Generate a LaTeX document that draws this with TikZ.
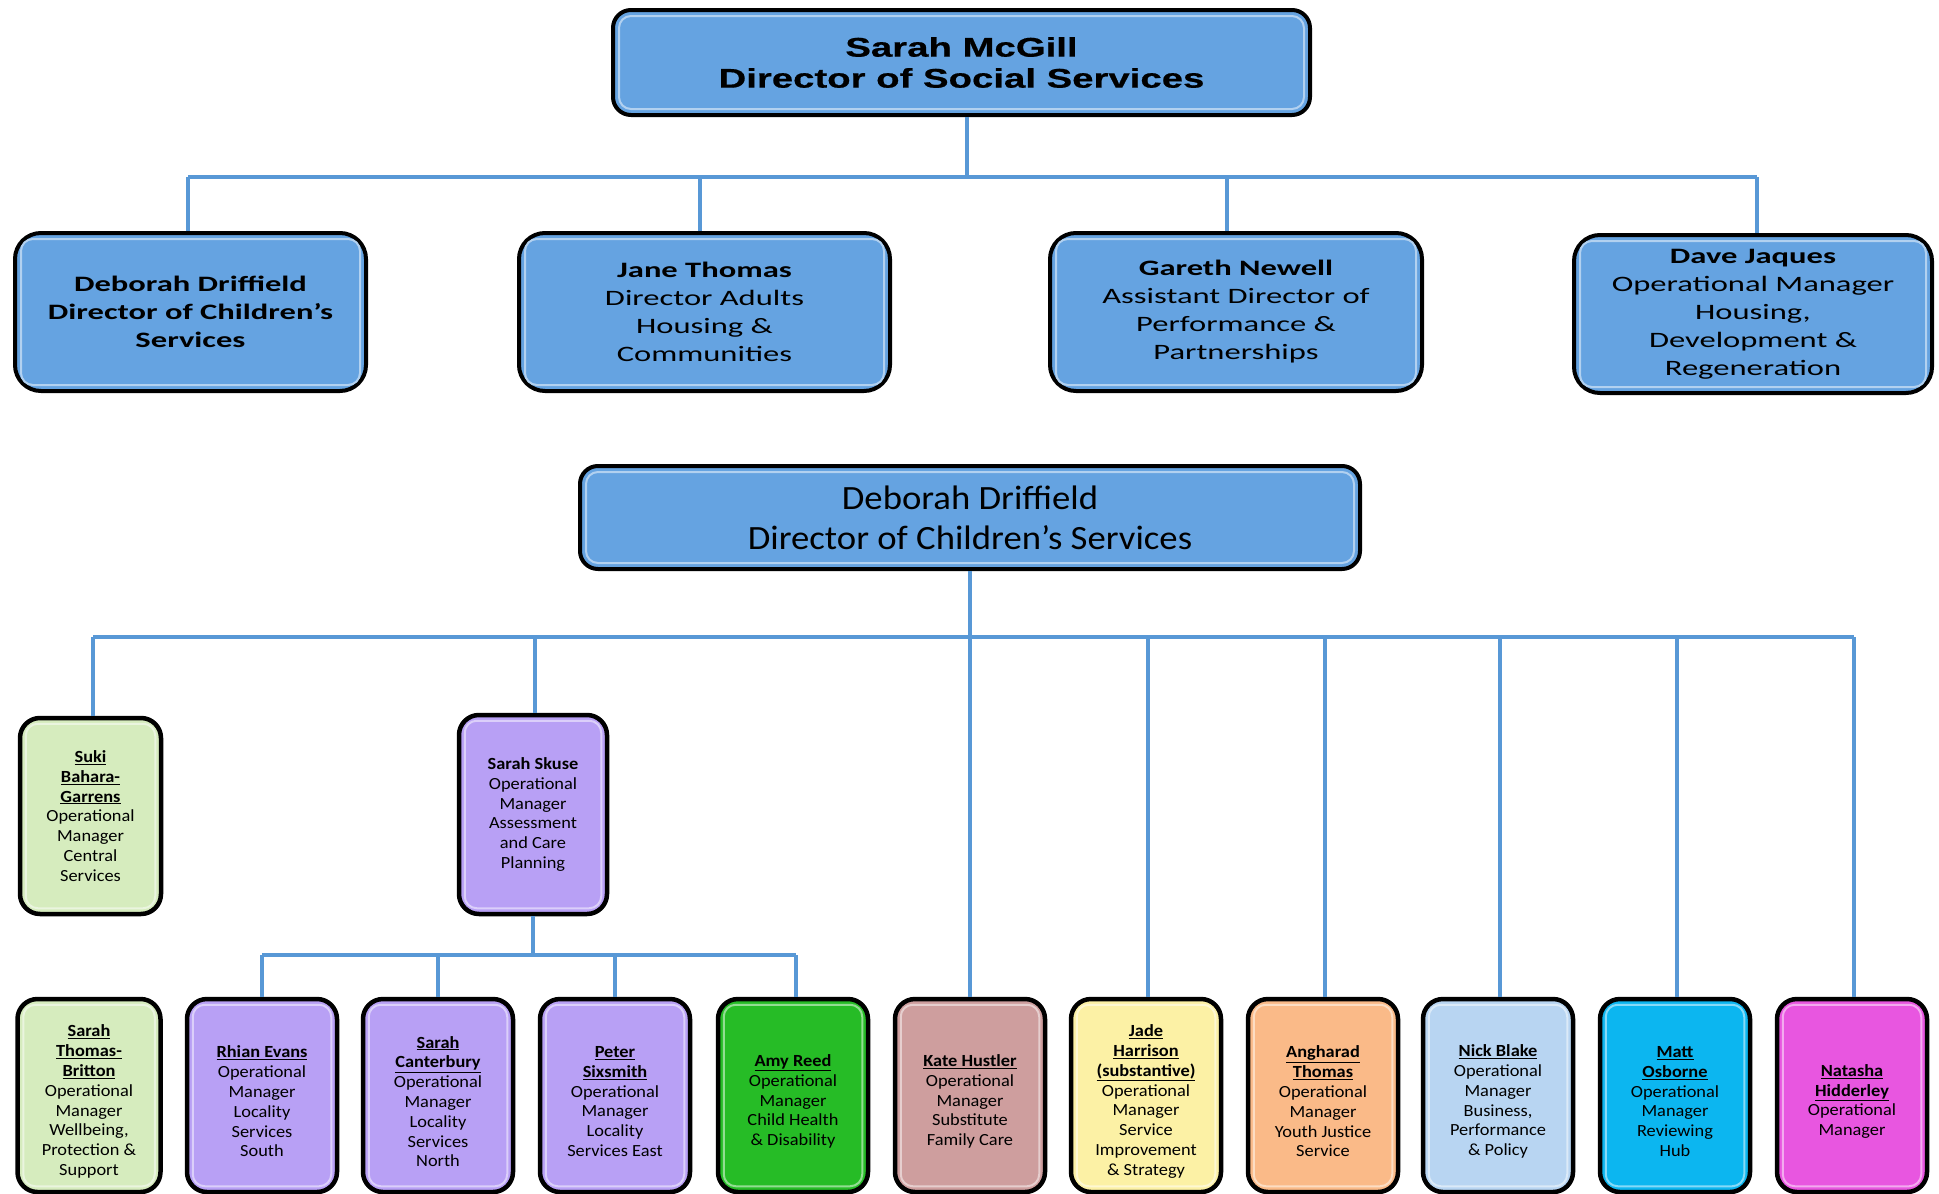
\documentclass[tikz,border=0pt]{standalone}
\usepackage{fontspec}
\setmainfont{Carlito}
\newfontfamily\topfont[FakeStretch=1.42,FakeBold=0.6]{Liberation Sans}
\newfontfamily\rowfont[FakeStretch=1.48]{Carlito}
\newfontfamily\midfont[FakeStretch=1.08]{Carlito}
\newfontfamily\smfont[FakeStretch=1.08]{Carlito}
\definecolor{boxblue}{RGB}{101,163,225}
\definecolor{linkblue}{RGB}{88,152,214}
\definecolor{lgreen}{RGB}{214,236,190}
\definecolor{lpurple}{RGB}{184,160,245}
\definecolor{bgreen}{RGB}{38,188,38}
\definecolor{rose}{RGB}{206,158,158}
\definecolor{lyellow}{RGB}{252,241,165}
\definecolor{peach}{RGB}{250,186,136}
\definecolor{lblue}{RGB}{184,213,242}
\definecolor{cyanbox}{RGB}{12,182,240}
\definecolor{magbox}{RGB}{232,86,224}
\newcommand{\uname}[1]{\underline{\textbf{#1}}}
\newcommand{\bev}[2]{\draw[draw=#2!50!white, line width=2, rounded corners=12] ([xshift=8pt,yshift=-8pt]#1.north west) rectangle ([xshift=-8pt,yshift=8pt]#1.south east);}
\tikzset{
  box/.style={draw=black, line width=4, rounded corners=18, align=center, inner sep=0, text=black},
  topbox/.style={box, fill=boxblue, font=\topfont\bfseries\fontsize{27}{31}\selectfont},
  rowbox/.style={box, fill=boxblue, minimum height=158, rounded corners=26, font=\rowfont\fontsize{22}{28}\selectfont},
  midbox/.style={box, fill=boxblue, font=\midfont\fontsize{34}{40}\selectfont},
  smbox/.style={box, fill=#1, line width=4.5, rounded corners=20, font=\smfont\fontsize{17}{19.8}\selectfont},
  botbox/.style={smbox=#1, minimum width=150, minimum height=193},
  bottext/.style={align=center, inner sep=0, text=black, font=\smfont\fontsize{17}{19.8}\selectfont},
  conn/.style={draw=linkblue, line width=4},
}
\begin{document}
\begin{tikzpicture}[x=1pt,y=-1pt]
\useasboundingbox (0,0) rectangle (1939,1194);
\clip (0,0) rectangle (1939,1194);
\fill[white] (0,0) rectangle (1939,1194);

% top section
\node[topbox, minimum width=697, minimum height=105] (ss) at (961.5,62.5) {Sarah McGill\\Director of Social Services};
\node[rowbox, minimum width=351] (dd) at (190.5,312) {\textbf{Deborah Driffield}\\\textbf{Director of Children’s}\\\textbf{Services}};
\node[rowbox, minimum width=371] (jt) at (704.5,312) {\textbf{Jane Thomas}\\Director Adults\\Housing \&\\Communities};
\node[rowbox, minimum width=372] (gn) at (1236,312) {\textbf{Gareth Newell}\\Assistant Director of\\Performance \&\\Partnerships};
\node[rowbox, minimum width=358] (dj) at (1753,314) {\textbf{Dave Jaques}\\Operational Manager\\Housing,\\Development \&\\Regeneration};

% second section
\node[midbox, minimum width=780, minimum height=103] (cds) at (970,517.5) {Deborah Driffield\\Director of Children’s Services};
\node[smbox=lgreen, minimum width=141, minimum height=196] (suki) at (90.5,816) {\uname{Suki}\\\uname{Bahara-}\\\uname{Garrens}\\Operational\\Manager\\Central\\Services};
\node[smbox=lpurple, minimum width=148, minimum height=199] (skuse) at (533,814.5) {\textbf{Sarah Skuse}\\Operational\\Manager\\Assessment\\and Care\\Planning};

\node[botbox=lgreen, minimum width=143] (stb) at (89,1095.5) {};
\node[botbox=lpurple] (re) at (262,1095.5) {};
\node[botbox=lpurple] (sc) at (438,1095.5) {};
\node[botbox=lpurple] (ps) at (615,1095.5) {};
\node[botbox=bgreen] (ar) at (793,1095.5) {};
\node[botbox=rose] (kh) at (970,1095.5) {};
\node[botbox=lyellow] (jh) at (1146,1095.5) {};
\node[botbox=peach] (at) at (1323,1095.5) {};
\node[botbox=lblue] (nb) at (1498,1095.5) {};
\node[botbox=cyanbox] (mo) at (1675,1095.5) {};
\node[botbox=magbox] (nh) at (1852,1095.5) {};

% bevels
\foreach \n in {ss,dd,jt,gn,dj,cds} {\bev{\n}{boxblue}}
\bev{suki}{lgreen}\bev{stb}{lgreen}
\foreach \n in {skuse,re,sc,ps} {\bev{\n}{lpurple}}
\bev{ar}{bgreen}\bev{kh}{rose}\bev{jh}{lyellow}\bev{at}{peach}
\bev{nb}{lblue}\bev{mo}{cyanbox}\bev{nh}{magbox}

% bottom-row texts
\node[bottext] (stb-t) at ([yshift=-6pt]stb.center) {\uname{Sarah}\\\uname{Thomas-}\\\uname{Britton}\\Operational\\Manager\\Wellbeing,\\Protection \&\\Support};
\node[bottext] (re-t) at ([yshift=-6pt]re.center) {\uname{Rhian Evans}\\Operational\\Manager\\Locality\\Services\\South};
\node[bottext] (sc-t) at ([yshift=-6pt]sc.center) {\uname{Sarah}\\\uname{Canterbury}\\Operational\\Manager\\Locality\\Services\\North};
\node[bottext] (ps-t) at ([yshift=-6pt]ps.center) {\uname{Peter}\\\uname{Sixsmith}\\Operational\\Manager\\Locality\\Services East};
\node[bottext] (ar-t) at ([yshift=-6pt]ar.center) {\uname{Amy Reed}\\Operational\\Manager\\Child Health\\\& Disability};
\node[bottext] (kh-t) at ([yshift=-6pt]kh.center) {\uname{Kate Hustler}\\Operational\\Manager\\Substitute\\Family Care};
\node[bottext] (jh-t) at ([yshift=-6pt]jh.center) {\uname{Jade}\\\uname{Harrison}\\\uname{(substantive)}\\Operational\\Manager\\Service\\Improvement\\\& Strategy};
\node[bottext] (at-t) at ([yshift=-6pt]at.center) {\uname{Angharad}\\\uname{Thomas}\\Operational\\Manager\\Youth Justice\\Service};
\node[bottext] (nb-t) at ([yshift=-6pt]nb.center) {\uname{Nick Blake}\\Operational\\Manager\\Business,\\Performance\\\& Policy};
\node[bottext] (mo-t) at ([yshift=-6pt]mo.center) {\uname{Matt}\\\uname{Osborne}\\Operational\\Manager\\Reviewing\\Hub};
\node[bottext] (nh-t) at ([yshift=-6pt]nh.center) {\uname{Natasha}\\\uname{Hidderley}\\Operational\\Manager};

% connectors, top section
\coordinate (b1) at (0,177);
\coordinate (c-ss) at ([xshift=5pt]ss.south);
\coordinate (c-dd) at ([xshift=-2.5pt]dd.north);
\coordinate (c-jt) at ([xshift=-4.5pt]jt.north);
\coordinate (c-gn) at ([xshift=-9pt]gn.north);
\coordinate (c-dj) at ([xshift=4pt]dj.north);
\draw[conn] (c-ss) -- (c-ss |- b1);
\draw[conn] (c-dd |- b1) -- (c-dj |- b1);
\foreach \n in {dd,jt,gn,dj} {\draw[conn] (c-\n) -- (c-\n |- b1);}

% connectors, second section
\coordinate (b2) at (0,637);
\coordinate (c-suki) at ([xshift=2.5pt]suki.north);
\draw[conn] (cds.south) -- (kh.north);
\draw[conn] (c-suki |- b2) -- ([xshift=2pt]nh.north |- b2);
\draw[conn] (c-suki) -- (c-suki |- b2);
\foreach \n in {skuse,jh,at,nb,mo,nh} {\draw[conn] ([xshift=1.5pt]\n.north) -- ([xshift=1.5pt]\n.north |- b2);}

\coordinate (b3) at (0,955);
\coordinate (c-ar) at ([xshift=3pt]ar.north);
\draw[conn] (skuse.south) -- (skuse.south |- b3);
\draw[conn] (re.north |- b3) -- (c-ar |- b3);
\draw[conn] (c-ar) -- (c-ar |- b3);
\foreach \n in {re,sc,ps} {\draw[conn] (\n.north) -- (\n.north |- b3);}
\end{tikzpicture}
\end{document}
